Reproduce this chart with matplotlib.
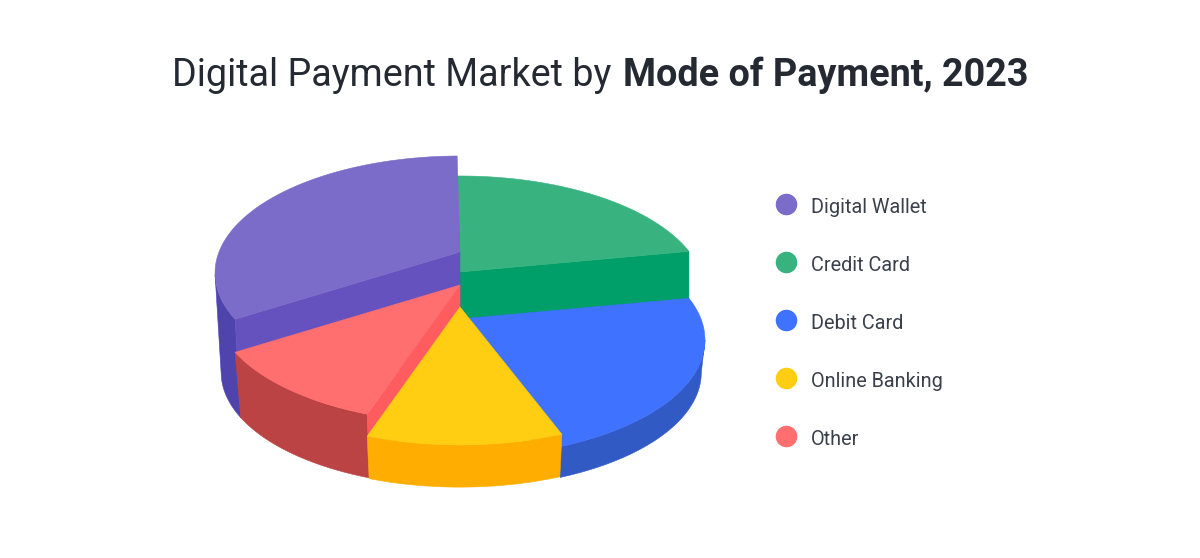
import numpy as np
import matplotlib
matplotlib.use("Agg")
import matplotlib.pyplot as plt

plt.rcParams['font.family'] = ['Roboto', 'DejaVu Sans']

# values
categories = ['Digital Wallet', 'Credit Card', 'Debit Card', 'Online Banking', 'Other']
shares = [33.8, 22.2, 22.3, 10.9, 10.8]
top_colors = ['#7B6CC9', '#38B380', '#3F72FF', '#FFCD11', '#FF6F6F']
outer_colors = ['#4F44AE', '#009E68', '#325AC4', '#FFAE00', '#BC4343']
side_colors = ['#6552BF', '#009E68', '#325AC4', '#FFAE00', '#FF5C60']
slice_heights = [97, 77, 30, 42, 64]
base_scales = [0.975, 1.0, 0.985, 0.98, 0.975]

# projection of the disc: far half looks smaller than near half
CX = 460
BASE_Y = 349
K = 0.179
A = 113.2
B = 241
START_ANGLE = 90.8


def project(theta, r, y0, s=1.0):
    u = r * np.cos(theta)
    v = r * np.sin(theta)
    w = 1 + K * v
    return CX + s * B * u / w, y0 - s * A * v / w


fig = plt.figure(figsize=(12, 5.58), dpi=100)
ax = fig.add_axes([0, 0, 1, 1])
ax.set_xlim(0, 1200)
ax.set_ylim(558, 0)
ax.axis('off')

# slices run counter clockwise from the top: wallet, other, banking, debit, credit
angle_order = [0, 4, 3, 2, 1]
start = {}
a = START_ANGLE
for i in angle_order:
    start[i] = a
    a += shares[i] / sum(shares) * 360

# back to front
draw_order = [1, 0, 2, 4, 3]

for rank, i in enumerate(draw_order):
    y_top = BASE_Y - slice_heights[i]
    y_bot = BASE_Y + 3
    s = base_scales[i]
    z = 2 + rank
    span = shares[i] / sum(shares) * 360
    t = np.radians(np.linspace(start[i], start[i] + span, 160))
    xt, yt = project(t, 1, y_top)
    xb, yb = project(t, 1, y_bot, s)
    cx_t, cy_t = project(0.0, 0, y_top)
    cx_b, cy_b = project(0.0, 0, y_bot, s)

    # outer wall, only the part in front of the silhouette points
    front = np.sin(t) < -K
    if front.any():
        ax.fill(np.r_[xt[front], xb[front][::-1]], np.r_[yt[front], yb[front][::-1]],
                color=outer_colors[i], linewidth=0.4, zorder=z)

    # cut walls, only the ones turned to the viewer
    if np.cos(t[0]) > 0:
        ax.fill([cx_t, xt[0], xb[0], cx_b], [cy_t, yt[0], yb[0], cy_b],
                color=side_colors[i], linewidth=0.4, zorder=z + 0.2)
    if np.cos(t[-1]) < 0:
        ax.fill([cx_t, xt[-1], xb[-1], cx_b], [cy_t, yt[-1], yb[-1], cy_b],
                color=side_colors[i], linewidth=0.4, zorder=z + 0.2)

    # top face
    ax.fill(np.r_[cx_t, xt], np.r_[cy_t, yt], color=top_colors[i], linewidth=0.4, zorder=z + 0.5)

# title in two weights
title_y = 86
ax.text(172, title_y, 'Digital Payment Market by', fontsize=27.2, color='#252A32',
        va='baseline', ha='left', fontweight='normal')
ax.text(623, title_y, 'Mode of Payment, 2023', fontsize=27.2, color='#252A32',
        va='baseline', ha='left', fontweight='bold')

# legend by hand, the dots sit a little above the text middle
for n, (name, c) in enumerate(zip(categories, top_colors)):
    y = 204 + 58 * n
    ax.plot([786], [y], marker='o', markersize=14.5, color=c, markeredgecolor=c, zorder=10)
    ax.text(811, y + 9, name, fontsize=14.3, color='#3A404A', va='baseline', ha='left')

fig.savefig('out.png', dpi=100)
